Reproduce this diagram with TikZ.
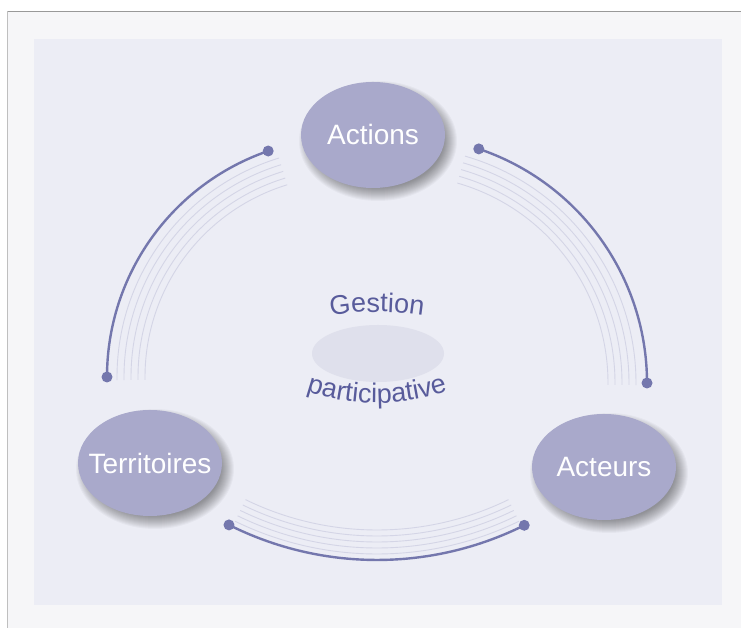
\documentclass[tikz,border=0pt]{standalone}
\usepackage{fontspec}
\setmainfont{Liberation Sans}
\newfontfamily\trackfont[LetterSpace=3]{Liberation Sans}
\usetikzlibrary{shapes.geometric,decorations.text}
\definecolor{outerbg}{HTML}{F6F6F8}
\definecolor{innerbg}{HTML}{ECEDF5}
\definecolor{nodefill}{HTML}{A9A9CB}
\definecolor{centerfill}{HTML}{DFE0EC}
\definecolor{arcmain}{HTML}{7477AD}
\definecolor{arcthin}{HTML}{D4D5E6}
\definecolor{txtcol}{HTML}{585B9B}
\newcommand\zwbox[1]{\makebox[0pt][c]{#1}}
\begin{document}
\begin{tikzpicture}[x=1pt,y=1pt,
  bubble/.style={ellipse, fill=nodefill, minimum width=144pt, minimum height=106pt, inner sep=0pt, text=white, font=\fontsize{28}{30}\selectfont},
  mainarc/.style={draw=arcmain, line width=2.4pt},
  thinarc/.style={draw=arcthin, line width=0.9pt},
  enddot/.style={circle, fill=arcmain, minimum size=11pt, inner sep=0pt},
  shadowlayer/.style={fill=black, opacity=0.03}
]
\useasboundingbox (0,0) rectangle (741,628);
\fill[white] (0,0) rectangle (741,628);
% panels
\fill[outerbg] (7,0) rectangle (741,617);
\draw[color=black!40, line width=0.8pt] (7,617) -- (741,617);
\draw[color=black!25, line width=0.8pt] (7,0) -- (7,617);
\fill[innerbg] (34,23) rectangle (722,589);

% shadows
\foreach \cx/\cy in {373/493, 150/165, 604/161}{
  \foreach \i in {0,...,13}{
    \fill[shadowlayer] (\cx+5,\cy-6) ellipse ({66+\i} and {47+\i});
  }
}

% centre
\node[ellipse, fill=centerfill, minimum width=132pt, minimum height=57pt, inner sep=0pt] (centre) at (378,274.5) {};
\path[decorate, decoration={text along path, text={|\fontsize{27}{27}\selectfont|Gestion}, text align=center, text color=txtcol}]
  (377,16) ++(115:300) arc (115:65:300);
\path[decorate, decoration={text along path, text={|\trackfont\fontsize{27}{27}\selectfont|participative}, text align=center, text color=txtcol}]
  (377,445) ++(240:220) arc (240:300:220);

% nodes
\node[bubble] (actions) at (373,493) {\zwbox{Actions}};
\node[bubble] (territoires) at (150,165) {\zwbox{Territoires}};
\node[bubble] (acteurs) at (604,161) {\zwbox{Acteurs}};

% left arc
\coordinate (lc) at (346,251);
\foreach \r in {229,222,215,208,201}{
  \draw[thinarc] (lc) ++(107:\r) arc (107:180.8:\r);
}
\draw[mainarc] (lc) ++(109:239) coordinate (l1) arc (109:180:239) coordinate (l2);
\node[enddot] (l1dot) at (l1) {};
\node[enddot] (l2dot) at (l2) {};

% right arc
\coordinate (rc) at (400,245);
\foreach \r in {236,229,222,215,208}{
  \draw[thinarc] (rc) ++(74:\r) arc (74:-0.5:\r);
}
\draw[mainarc] (rc) ++(71.4:247) coordinate (r1) arc (71.4:0:247) coordinate (r2);
\node[enddot] (r1dot) at (r1) {};
\node[enddot] (r2dot) at (r2) {};

% bottom arc
\coordinate (bc) at (377,398);
\foreach \r in {324,318,312,306,300}{
  \draw[thinarc] (bc) ++(244:\r) arc (244:296:\r);
}
\draw[mainarc] (bc) ++(243.35:330) coordinate (b1) arc (243.35:296.5:330) coordinate (b2);
\node[enddot] (b1dot) at (b1) {};
\node[enddot] (b2dot) at (b2) {};
\end{tikzpicture}
\end{document}
